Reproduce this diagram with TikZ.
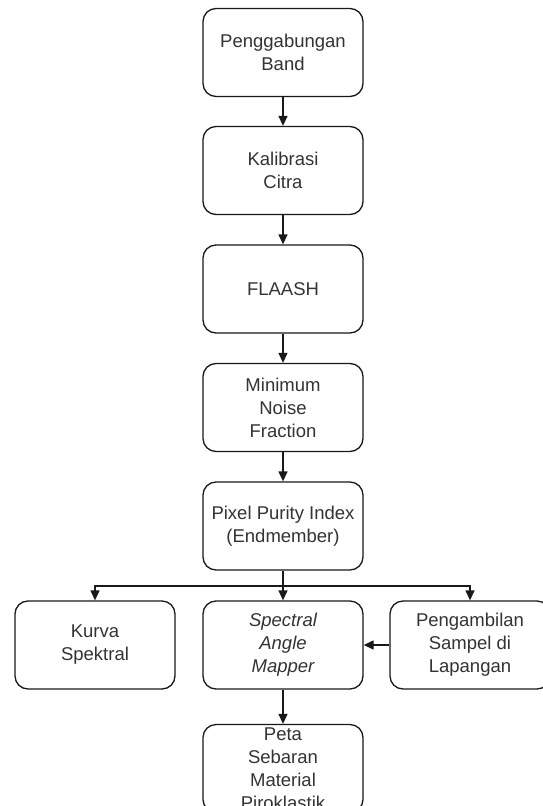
\documentclass[tikz,border=0pt]{standalone}
\usepackage{fontspec}
\setmainfont{Liberation Sans}
\usetikzlibrary{arrows.meta}
\definecolor{txt}{HTML}{333333}
\begin{document}
\begin{tikzpicture}[x=1pt,y=-1pt,
  box/.style={draw=black!90, line width=1.3pt, rounded corners=13pt, minimum width=160pt, minimum height=88pt,
    align=center, inner sep=0pt, text=txt, font=\fontsize{18.5}{23}\selectfont},
  arr/.style={draw=black!90, line width=1.3pt, -{Triangle[length=10pt,width=9pt]}}]
\useasboundingbox (0,0) rectangle (543,806);
\fill[white] (0,0) rectangle (543,806);
\node[box] (b1) at (283,52.5) {Penggabungan\\Band};
\node[box] (b2) at (283,170.5) {Kalibrasi\\Citra};
\node[box] (b3) at (283,289) {FLAASH};
\node[box] (b4) at (283,407.5) {Minimum\\Noise\\Fraction};
\node[box] (b5) at (283,526) {Pixel Purity Index\\(Endmember)};
\node[box] (kur) at (95,645) {Kurva\\Spektral};
\node[box] (sam) at (283,645) {\itshape Spectral\\\itshape Angle\\\itshape Mapper};
\node[box] (pen) at (470,645) {Pengambilan\\Sampel di\\Lapangan};
\node[box] (peta) at (283,768.5) {Peta\\Sebaran\\Material\\Piroklastik};
\coordinate (j) at (283,586);
\draw[arr] (b1) -- (b2);
\draw[arr] (b2) -- (b3);
\draw[arr] (b3) -- (b4);
\draw[arr] (b4) -- (b5);
\draw[arr] (b5) -- (sam);
\draw[arr] (j) -| (kur);
\draw[arr] (j) -| (pen);
\draw[arr] (pen) -- (sam);
\draw[arr] (sam) -- (peta);
\end{tikzpicture}
\end{document}
